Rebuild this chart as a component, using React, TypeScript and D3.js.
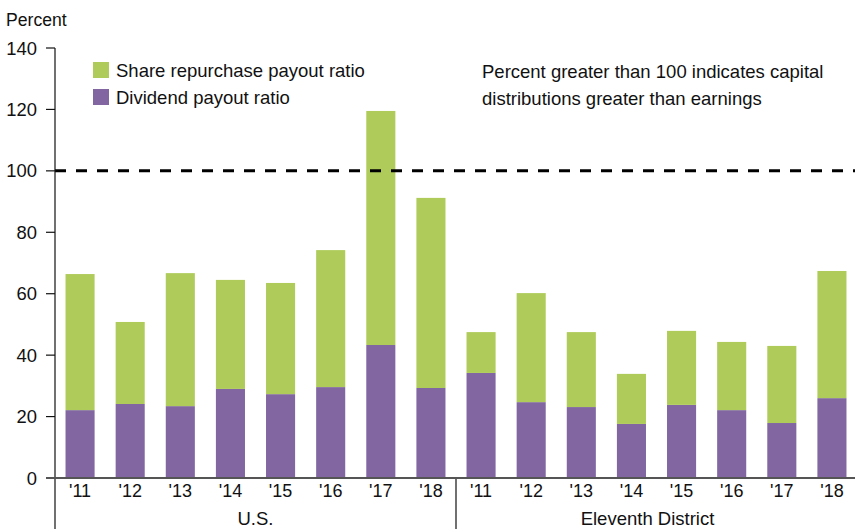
import React from "react";
import * as d3 from "d3";

const years = ["'11", "'12", "'13", "'14", "'15", "'16", "'17", "'18"];
const groups = ["U.S.", "Eleventh District"];
const usDividend = [22.1, 24.1, 23.4, 29.0, 27.3, 29.6, 43.3, 29.3];
const usTotal = [66.4, 50.8, 66.7, 64.5, 63.5, 74.2, 119.5, 91.2];
const edDividend = [34.2, 24.7, 23.1, 17.6, 23.8, 22.1, 17.9, 26.0];
const edTotal = [47.5, 60.2, 47.5, 33.9, 47.9, 44.3, 43.0, 67.4];
const yTicks = [0, 20, 40, 60, 80, 100, 120, 140];
const legendLabels = ["Share repurchase payout ratio", "Dividend payout ratio"];
const noteLines = ["Percent greater than 100 indicates capital", "distributions greater than earnings"];

const GREEN = "#afcb5a";
const PURPLE = "#8166a2";
const FONT = "'Liberation Sans', Arial, Helvetica, sans-serif";

export default function App() {
  const W = 855, H = 529;
  const left = 55, right = 857, top = 48, bottom = 478;

  const rows = [
    ...years.map((y, i) => ({ key: `us-${i}`, year: y, group: 0, div: usDividend[i], rep: usTotal[i] - usDividend[i] })),
    ...years.map((y, i) => ({ key: `ed-${i}`, year: y, group: 1, div: edDividend[i], rep: edTotal[i] - edDividend[i] })),
  ];

  const x = d3.scaleBand<string>().domain(rows.map(r => r.key)).range([left, right]).paddingInner(0.42).paddingOuter(0.21);
  const y = d3.scaleLinear().domain([0, 140]).range([bottom, top]);

  const stack = d3.stack<any>().keys(["div", "rep"]);
  const series = stack(rows);
  const colors = [PURPLE, GREEN];

  const step = x.step();
  const dividerX = left + 8 * step;
  const groupCenters = [(left + dividerX) / 2, (dividerX + 839) / 2];

  return (
    <svg width={W} height={H} style={{ position: "absolute", left: 0, top: 0, background: "#fff" }} fontFamily={FONT}>
      <text x={6} y={26} fontSize={17.6} fill="#111">Percent</text>
      {yTicks.map(t => (
        <g key={t}>
          <line x1={46} x2={left} y1={y(t)} y2={y(t)} stroke="#111" strokeWidth={1.2} />
          <text x={37} y={y(t)} dy="0.36em" textAnchor="end" fontSize={18.4} fill="#111">{t}</text>
        </g>
      ))}
      {series.map((s, si) => (
        <g key={si} fill={colors[si]}>
          {s.map((d, i) => (
            <rect key={i} x={x(rows[i].key)} width={x.bandwidth()} y={y(d[1])} height={y(d[0]) - y(d[1])} />
          ))}
        </g>
      ))}
      <line x1={left} x2={W} y1={y(100)} y2={y(100)} stroke="#000" strokeWidth={3} strokeDasharray="11 10" />
      <line x1={left} x2={left} y1={top} y2={H} stroke="#111" strokeWidth={1.2} />
      <line x1={dividerX} x2={dividerX} y1={bottom} y2={H} stroke="#111" strokeWidth={1.2} />
      <line x1={46} x2={W} y1={y(0)} y2={y(0)} stroke="#555" strokeWidth={2} />
      {rows.map(r => (
        <text key={r.key} x={(x(r.key) as number) + x.bandwidth() / 2} y={497} textAnchor="middle" fontSize={18} fill="#111">{r.year}</text>
      ))}
      {groups.map((g, gi) => (
        <text key={g} x={groupCenters[gi]} y={525} textAnchor="middle" fontSize={18.5} fill="#111">{g}</text>
      ))}
      {legendLabels.map((l, i) => (
        <g key={l}>
          <rect x={93} y={62 + i * 27} width={16} height={16} fill={[GREEN, PURPLE][i]} />
          <text x={116} y={77 + i * 27} fontSize={18.5} fill="#111">{l}</text>
        </g>
      ))}
      {noteLines.map((l, i) => (
        <text key={i} x={482} y={78 + i * 27} fontSize={18.5} fill="#111">{l}</text>
      ))}
    </svg>
  );
}
